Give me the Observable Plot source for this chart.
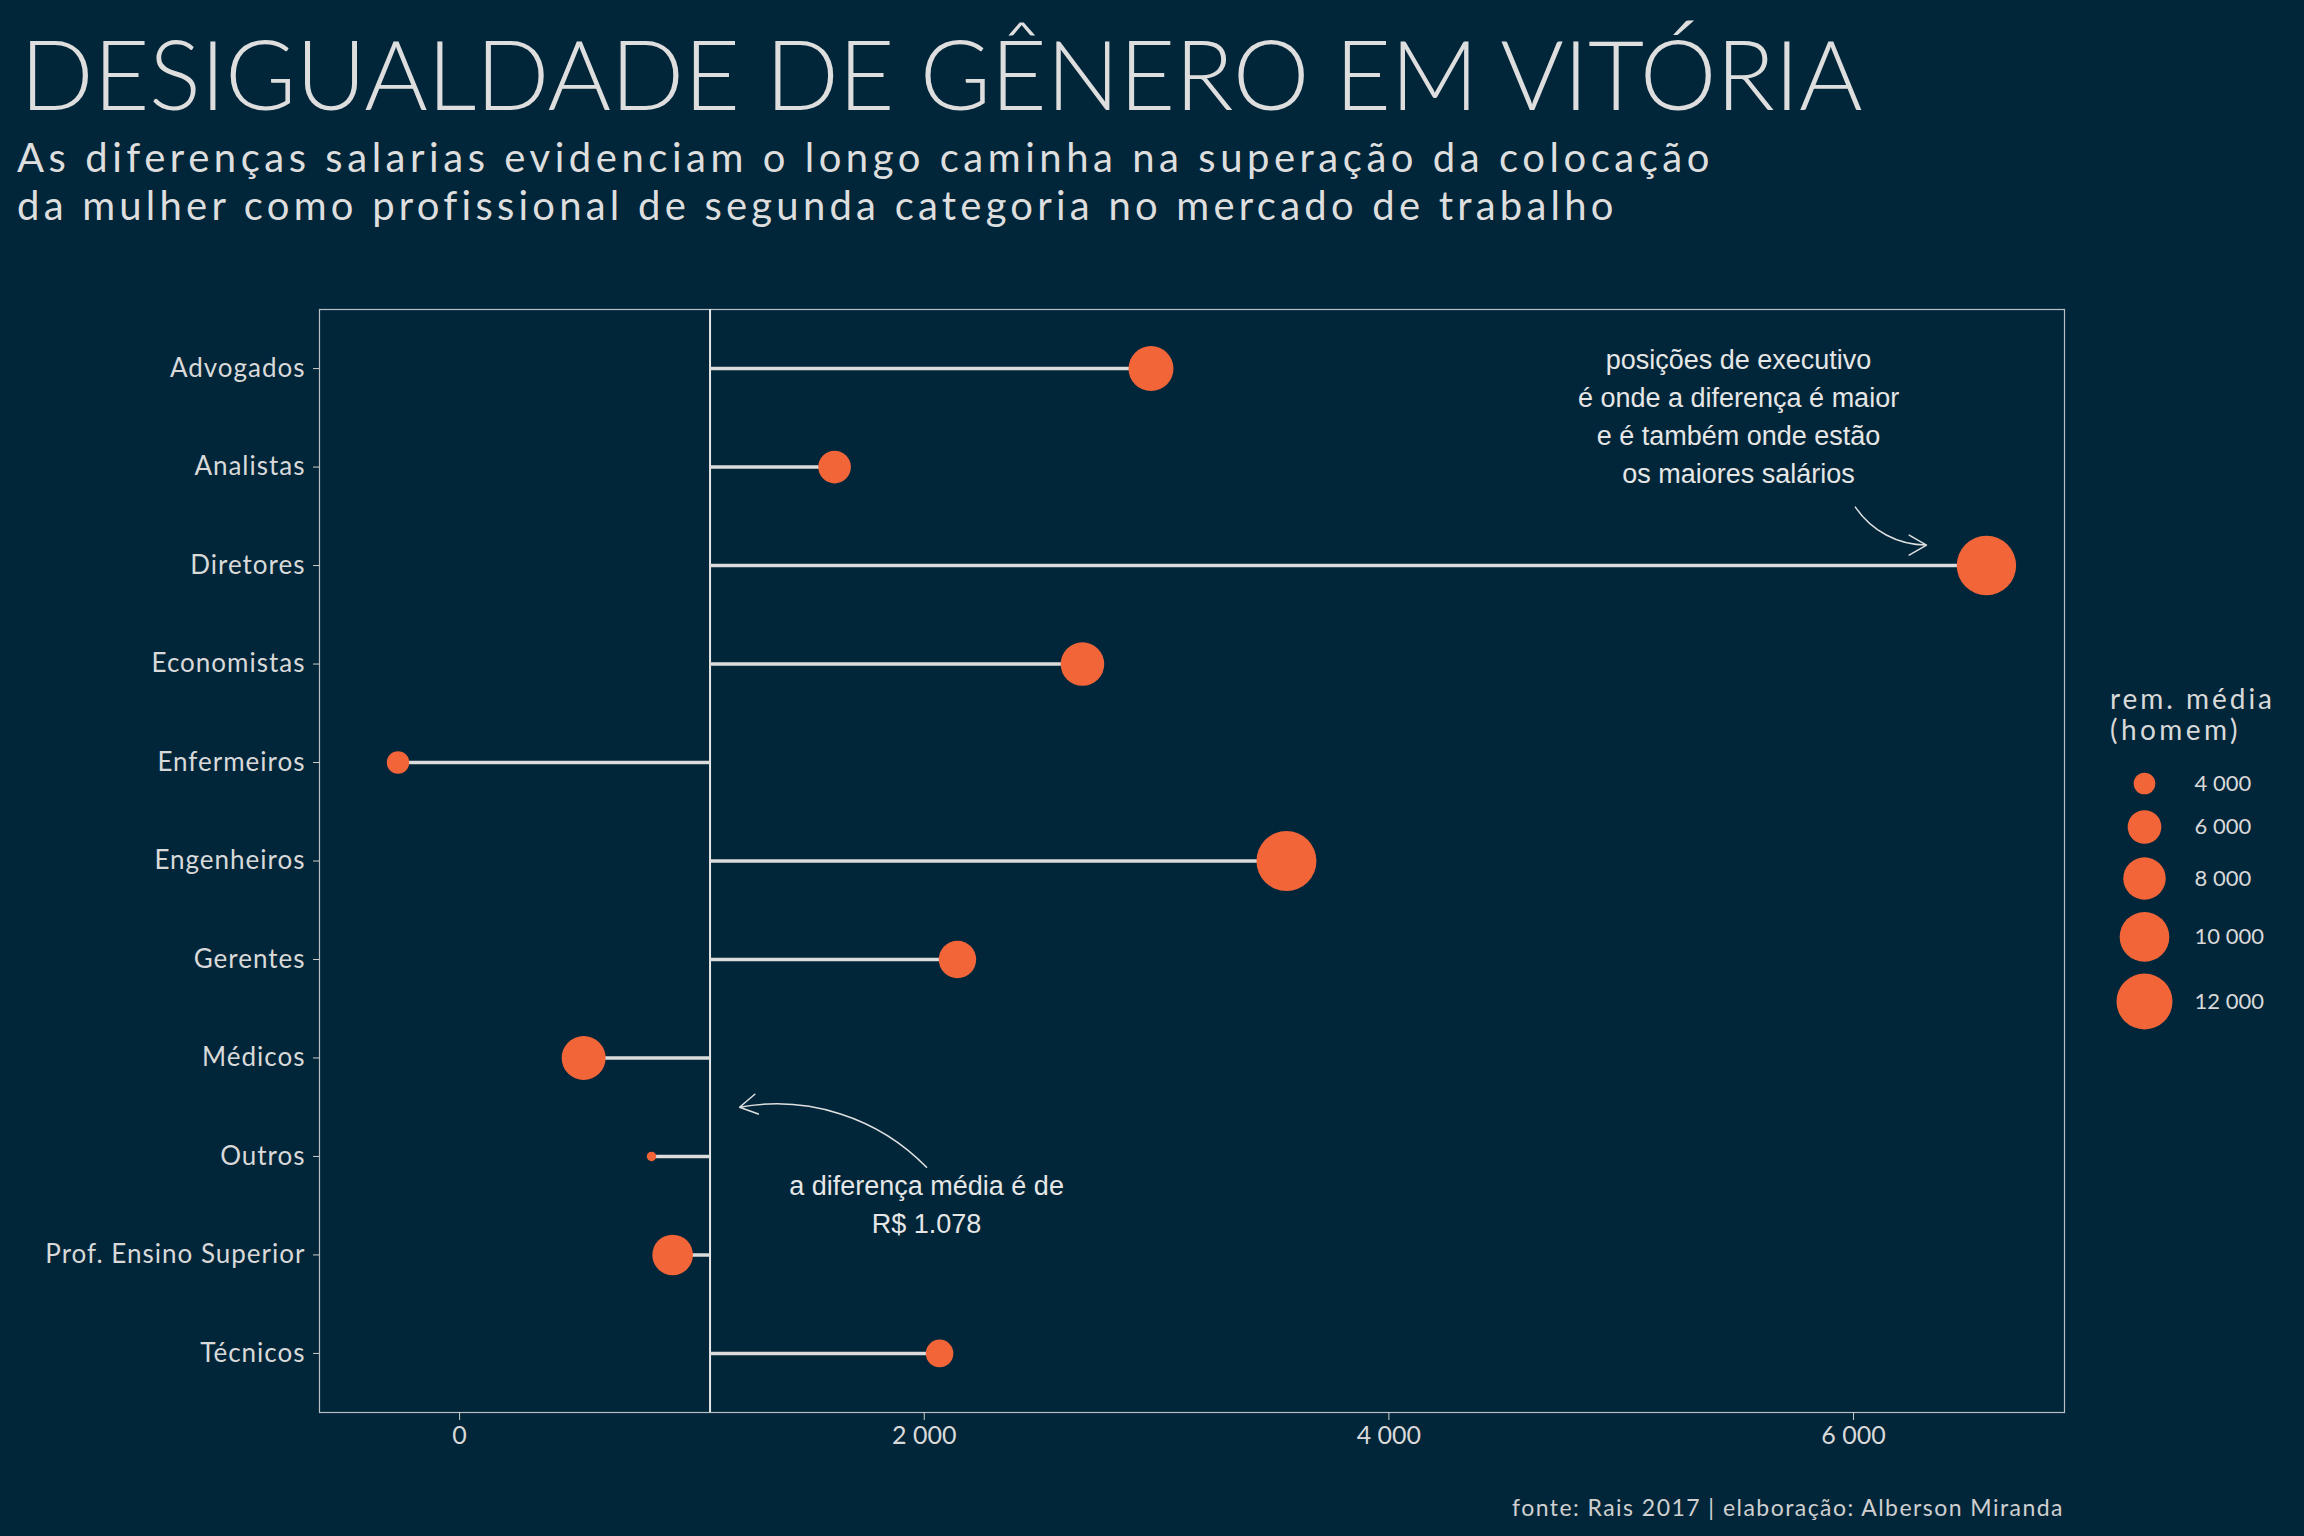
<!DOCTYPE html>
<html>
<head>
<meta charset="utf-8">
<script src="https://cdn.jsdelivr.net/npm/d3@7"></script>
<script src="https://cdn.jsdelivr.net/npm/@observablehq/plot@0.6"></script>
<style>
  html, body { margin: 0; padding: 0; }
  body { width: 2304px; height: 1536px; background: #01263a; position: relative; overflow: hidden; font-family: Lato, sans-serif; color: #dcdcdc; }
  .abs { position: absolute; white-space: nowrap; }
  #title { left: 20px; top: 24px; font-size: 97px; font-weight: 300; line-height: 1; color: #dedede; }
  #subtitle { left: 17px; top: 133px; font-size: 40px; font-weight: 400; line-height: 48px; color: #dedede; }
  #legendTitle { left: 2110px; top: 683px; font-size: 28px; line-height: 31px; color: #d9d9d9; }
  #caption { right: 240px; top: 1496px; font-size: 23px; line-height: 23px; color: #d0d0d0; }
  #main { position: absolute; left: 0; top: 280px; }
  #legend { position: absolute; left: 2080px; top: 740px; }
  #main g[aria-label="y-axis tick label"] text { letter-spacing: 1px; }
</style>
</head>
<body>
<div id="title" class="abs"></div>
<div id="subtitle" class="abs"></div>
<div id="legendTitle" class="abs"></div>
<div id="caption" class="abs"></div>
<div id="main"></div>
<div id="legend"></div>
<script>
// ---------- data ----------
const titleText = "DESIGUALDADE DE GÊNERO EM VITÓRIA";
const subtitleLines = [
  "As diferenças salarias evidenciam o longo caminha na superação da colocação",
  "da mulher como profissional de segunda categoria no mercado de trabalho"
];
const captionText = "fonte: Rais 2017 | elaboração: Alberson Miranda";
const legendTitleLines = ["rem. média", "(homem)"];

const categories = ["Advogados", "Analistas", "Diretores", "Economistas", "Enfermeiros", "Engenheiros",
  "Gerentes", "Médicos", "Outros", "Prof. Ensino Superior", "Técnicos"];
// difference in average pay (men - women), R$
const gapValues = [2976, 1614, 6572, 2681, -265, 3559, 2143, 534, 826, 917, 2066];
// average pay of men, R$
const menPay = [8664, 5786, 13173, 8293, 4101, 13388, 6790, 8400, 2862, 7538, 4880];
const meanGap = 1078;

const xTicks = [0, 2000, 4000, 6000];
const legendValues = [4000, 6000, 8000, 10000, 12000];

const annoText = [
  "posições de executivo\né onde a diferença é maior\ne é também onde estão\nos maiores salários",
  "a diferença média é de\nR$ 1.078"
];
const annoX = [5505, 2010];
const annoY = [0.46, 8.465];

const arrowX1 = [6008, 2010];
const arrowY1 = [1.407, 8.11];
const arrowX2 = [6314, 1205];
const arrowY2 = [1.792, 7.50];

// ---------- helpers ----------
const rows = categories.map((c, i) => ({cat: c, idx: i, gap: gapValues[i], men: menPay[i]}));
const fmt = d3.formatLocale({decimal: ",", thousands: "\u00a0", grouping: [3], currency: ["R$", ""]}).format(",");
const sizeFloor = 2597;
const rScale = {type: "sqrt", domain: [0, 12000 - sizeFloor], range: [0, 28]};
const dotColor = "#f26539", textColor = "#d9d9d9";

// ---------- titles ----------
function addLines(el, lines) {
  return lines.map(t => { const d = document.createElement("div"); d.textContent = t; el.appendChild(d); return d; });
}
function fitWidth(el, target) {
  el.style.display = "inline-block";
  el.style.letterSpacing = "0px";
  const w = el.getBoundingClientRect().width;
  const n = el.textContent.length;
  el.style.letterSpacing = ((target - w) / n) + "px";
}
const titleEl = document.getElementById("title");
titleEl.textContent = titleText;
fitWidth(titleEl, 1842);

const subDivs = addLines(document.getElementById("subtitle"), subtitleLines);
fitWidth(subDivs[0], 1697);
fitWidth(subDivs[1], 1600);
subDivs.forEach(d => { d.style.display = "block"; });

const legDivs = addLines(document.getElementById("legendTitle"), legendTitleLines);
fitWidth(legDivs[0], 165);
fitWidth(legDivs[1], 131);
legDivs.forEach(d => { d.style.display = "block"; });

const capEl = document.getElementById("caption");
capEl.textContent = captionText;
fitWidth(capEl, 552);

// ---------- main chart ----------
const main = Plot.plot({
  width: 2080,
  height: 1190,
  marginTop: 29,
  marginBottom: 58,
  marginLeft: 319,
  marginRight: 16,
  style: {background: "transparent", color: textColor, fontFamily: "Lato, sans-serif", fontSize: "25px"},
  x: {domain: [-603, 6908], label: null},
  y: {domain: [-0.6, 10.6], reverse: true, label: null},
  r: rScale,
  marks: [
    Plot.frame({stroke: "#b9bec2", strokeWidth: 1.2}),
    Plot.axisX({ticks: xTicks, tickFormat: fmt, tickSize: 8, tickPadding: 6, label: null, fontSize: 25, stroke: "#cfcfcf"}),
    Plot.axisY({ticks: d3.range(categories.length), tickFormat: i => categories[i], tickSize: 6, tickPadding: 8, label: null, fontSize: 26, stroke: "#cfcfcf"}),
    Plot.ruleX([meanGap], {stroke: "#e6e6e6", strokeWidth: 2}),
    Plot.ruleY(rows, {y: "idx", x1: meanGap, x2: "gap", stroke: "#dcdcdc", strokeWidth: 3.5}),
    Plot.dot(rows, {x: "gap", y: "idx", r: d => d.men - sizeFloor, fill: dotColor}),
    Plot.text(annoText, {x: annoX, y: annoY, text: d => d, fontFamily: "Liberation Sans, Arial, sans-serif",
      fontSize: 27, lineHeight: 1.41, fill: "#e6e6e6", textAnchor: "middle", lineAnchor: "middle"}),
    Plot.arrow(d3.range(arrowX1.length), {x1: arrowX1, y1: arrowY1, x2: arrowX2, y2: arrowY2,
      bend: -28, stroke: "#e0e0e0", strokeWidth: 1.5, headLength: 20})
  ]
});
document.getElementById("main").appendChild(main);

// ---------- size legend ----------
const legend = Plot.plot({
  width: 224,
  height: 290,
  marginTop: 43,
  marginBottom: 29,
  marginLeft: 0,
  marginRight: 0,
  style: {background: "transparent", color: textColor, fontFamily: "Lato, sans-serif"},
  x: {axis: null},
  y: {type: "pow", exponent: 1.5, domain: [4000, 12000], reverse: true, axis: null},
  r: rScale,
  marks: [
    Plot.dot(legendValues, {y: d => d, r: d => d - sizeFloor, fill: dotColor, frameAnchor: "left", dx: 64}),
    Plot.text(legendValues, {y: d => d, text: d => fmt(d), frameAnchor: "left", dx: 114, textAnchor: "start",
      fontSize: 22, fill: textColor})
  ]
});
document.getElementById("legend").appendChild(legend);
</script>
</body>
</html>
